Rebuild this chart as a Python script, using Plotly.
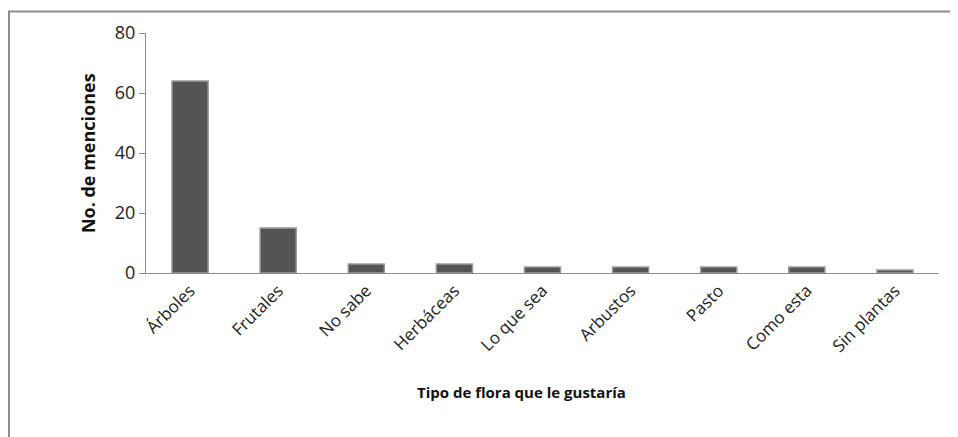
import plotly.graph_objects as go

categories = ["Árboles", "Frutales", "No sabe", "Herbáceas", "Lo que sea",
              "Arbustos", "Pasto", "Como esta", "Sin plantas"]
menciones = [64, 15, 3, 3, 2, 2, 2, 2, 1]
y_ticks = [0, 20, 40, 60, 80]

FONT = "Open Sans, Liberation Sans, sans-serif"

fig = go.Figure(
    go.Bar(
        x=categories,
        y=menciones,
        marker=dict(color="#545454", line=dict(color="#9a9a9a", width=1.5)),
        width=0.41,
    )
)

# the page body adds 8px around the figure, so the figure is a bit smaller
fig.update_layout(
    width=950,
    height=429,
    margin=dict(l=138, r=19, t=19, b=164),
    paper_bgcolor="white",
    plot_bgcolor="white",
    showlegend=False,
    font=dict(family=FONT, size=15, color="#222222"),
    xaxis=dict(
        showline=True,
        linecolor="#8c8c8c",
        linewidth=1,
        tickangle=-45,
        ticks="",
        showgrid=False,
        tickfont=dict(size=17),
    ),
    yaxis=dict(
        range=[0, 80],
        tickvals=y_ticks,
        showline=True,
        linecolor="#8c8c8c",
        linewidth=1,
        ticks="outside",
        ticklen=6,
        tickcolor="#8c8c8c",
        showgrid=False,
        zeroline=False,
        tickfont=dict(size=18),
    ),
    annotations=[
        dict(
            text="<b>No. de menciones</b>",
            xref="paper", yref="paper",
            x=-0.073, y=0.5,
            xanchor="center", yanchor="middle",
            textangle=-90,
            showarrow=False,
            font=dict(size=18, color="#111111"),
        ),
        dict(
            text="<b>Tipo de flora que le gustaría</b>",
            xref="paper", yref="paper",
            x=0.474, y=-0.497,
            xanchor="center", yanchor="middle",
            showarrow=False,
            font=dict(size=15, color="#111111"),
        ),
    ],
    shapes=[
        dict(
            type="rect",
            xref="paper", yref="paper",
            x0=-0.1728, x1=1.04, y0=-0.72, y1=1.0894,
            line=dict(color="#8c8c8c", width=2),
            fillcolor="rgba(0,0,0,0)",
            layer="below",
        )
    ],
)

fig.write_html("out.html")
